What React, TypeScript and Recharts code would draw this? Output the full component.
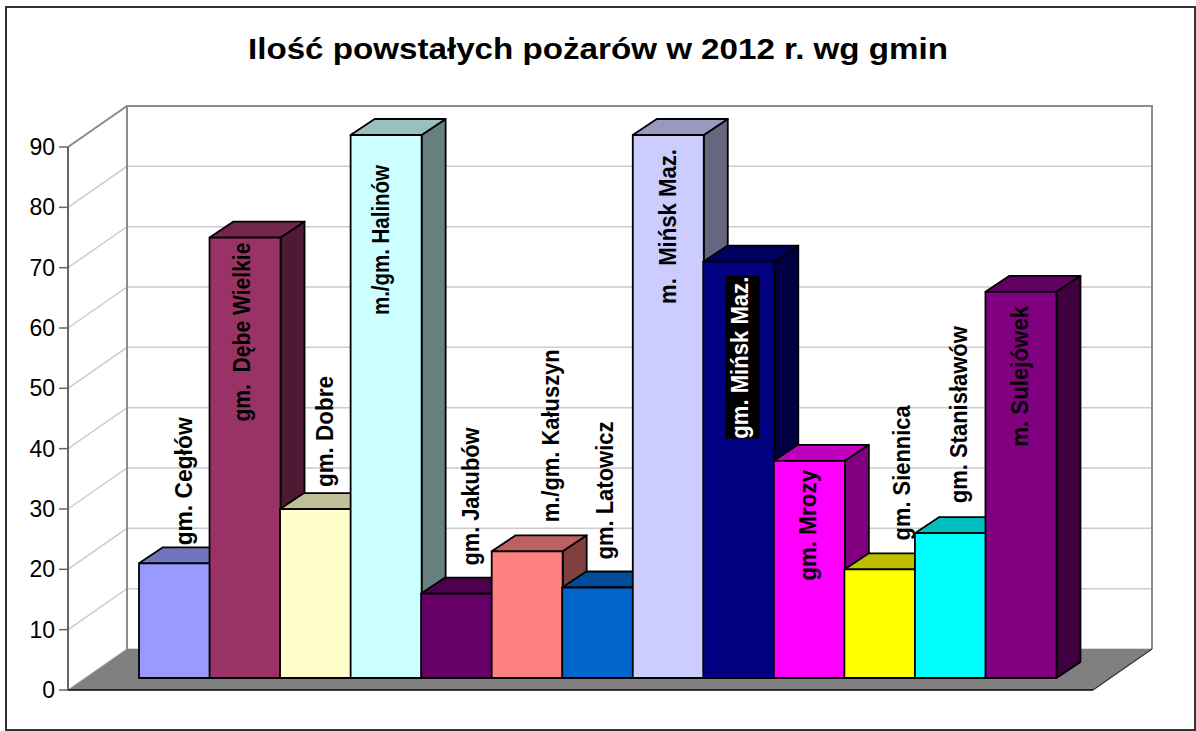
import { BarChart, Bar, XAxis, YAxis, CartesianGrid, LabelList, ReferenceArea } from "recharts"

const gminy = [
  "gm. Cegłów", "gm.  Dębe Wielkie", "gm. Dobre", "m./gm. Halinów", "gm. Jakubów", "m./gm. Kałuszyn", "gm. Latowicz",
  "m.  Mińsk Maz.", "gm. Mińsk Maz.", "gm. Mrozy", "gm. Siennica", "gm. Stanisławów", "m. Sulejówek",
]
const pozary = [19, 73, 28, 90, 14, 21, 15, 90, 69, 36, 18, 24, 64]
const yTicks = [0, 10, 20, 30, 40, 50, 60, 70, 80, 90]
const colors = [
  "#9999FF", "#993366", "#FFFFCC", "#CCFFFF", "#660066", "#FF8080", "#0066CC",
  "#CCCCFF", "#000080", "#FF00FF", "#FFFF00", "#00FFFF", "#800080",
]

const data = gminy.map((name, i) => ({ name, value: pozary[i] }))

// hand placed labels: sideways nudge from bar centre, gap between bar top and text start, drawn length
const labelNudge = [10, -2, 10, -4, 15, 25, 8, 1, 2, 0, 23, 10, 0]
const labelGap = [18, -184, 22, -180, 28, 29, 28, -169, -177, -120, 29, 30, -155]
const labelLength = [128, 179, 111, 150, 138, 173, 138, 155, 162, 111, 135, 177, 141]

const AXIS_PADDING = 54
const WALL_DX = 59
const WALL_DY = 41
const BAR_DX = 17
const BAR_DY = 12
const DEPTH_X = 24
const DEPTH_Y = 16

const shade = (hex: string, k: number) => {
  const n = parseInt(hex.slice(1), 16)
  const c = [n >> 16, (n >> 8) & 255, n & 255].map((v) => Math.round(v * k))
  return `rgb(${c[0]},${c[1]},${c[2]})`
}

const Bar3D = (props: any) => {
  const { x, y, width, height, index } = props
  const left = x + BAR_DX
  const right = left + width
  const top = y - BAR_DY
  const bottom = top + height
  const fill = colors[index]
  const line = { stroke: "#000", strokeWidth: 1.8, strokeLinejoin: "round" as const }
  return (
    <g>
      <polygon
        points={`${right},${top} ${right + DEPTH_X},${top - DEPTH_Y} ${right + DEPTH_X},${bottom - DEPTH_Y} ${right},${bottom}`}
        fill={shade(fill, 0.5)}
        {...line}
      />
      <polygon
        points={`${left},${top} ${left + DEPTH_X},${top - DEPTH_Y} ${right + DEPTH_X},${top - DEPTH_Y} ${right},${top}`}
        fill={shade(fill, 0.75)}
        {...line}
      />
      <rect x={left} y={top} width={width} height={height} fill={fill} {...line} />
    </g>
  )
}

const BarLabel = (props: any) => {
  const { x, y, width, value, index } = props
  const cx = x + BAR_DX + width / 2 + labelNudge[index]
  const start = y - BAR_DY - labelGap[index]
  const inverted = index === 8
  return (
    <g>
      {inverted && <rect x={cx - 15} y={start - 163} width={34} height={163} fill="#000" />}
      <text
        transform={`translate(${cx + 7},${start}) rotate(-90)`}
        fontFamily="Liberation Sans"
        fontWeight="bold"
        fontSize={23}
        textLength={labelLength[index]}
        lengthAdjust="spacingAndGlyphs"
        fill={inverted ? "#fff" : "#000"}
        style={{ whiteSpace: "pre" }}
      >
        {value}
      </text>
    </g>
  )
}

// ReferenceArea only spans the padded band range, so widen it back to the whole floor
const Walls = (props: any) => {
  const { y, height } = props
  const x = props.x - AXIS_PADDING
  const width = props.width + AXIS_PADDING * 2
  const bottom = y + height
  const right = x + width
  return (
    <g>
      <polygon
        points={`${x},${bottom} ${x + WALL_DX},${bottom - WALL_DY} ${right + WALL_DX},${bottom - WALL_DY} ${right},${bottom}`}
        fill="#808080"
      />
      <path
        d={`M${x},${y} L${x + WALL_DX},${y - WALL_DY} L${right + WALL_DX},${y - WALL_DY} L${right + WALL_DX},${bottom - WALL_DY} M${x + WALL_DX},${y - WALL_DY} L${x + WALL_DX},${bottom - WALL_DY}`}
        fill="none"
        stroke="#8c8c8c"
        strokeWidth={2}
      />
      <line x1={x} y1={bottom} x2={right} y2={bottom} stroke="#000" strokeWidth={1.5} />
      <line x1={right} y1={bottom} x2={right + WALL_DX} y2={bottom - WALL_DY} stroke="#333" strokeWidth={1.2} />
    </g>
  )
}

const GridLine = (props: any) => {
  const { x1, x2, y1 } = props
  return (
    <path
      key={props.key ?? y1}
      d={`M${x1},${y1} L${x1 + WALL_DX},${y1 - WALL_DY} L${x2 + WALL_DX},${y1 - WALL_DY}`}
      fill="none"
      stroke="#cccccc"
      strokeWidth={1.5}
    />
  )
}

export default function App() {
  return (
    <div
      style={{
        position: "absolute",
        left: 0,
        top: 0,
        width: 1196,
        height: 731,
        background: "#fff",
      }}
    >
      <BarChart
        width={1196}
        height={731}
        data={data}
        barCategoryGap={0}
        margin={{ top: 147, right: 103, bottom: 41, left: 0 }}
      >
        <rect x={6} y={7} width={1189} height={723} fill="none" stroke="#333" strokeWidth={2} />
        <text
          x={598}
          y={59}
          textAnchor="middle"
          fontFamily="Liberation Sans"
          fontWeight="bold"
          fontSize={30}
          textLength={700}
          lengthAdjust="spacingAndGlyphs"
          fill="#000"
        >
          Ilość powstałych pożarów w 2012 r. wg gmin
        </text>
        <CartesianGrid vertical={false} horizontal={GridLine} />
        <ReferenceArea y1={0} y2={90} shape={Walls} />
        <XAxis dataKey="name" hide padding={{ left: AXIS_PADDING, right: AXIS_PADDING }} />
        <YAxis
          width={68}
          domain={[0, 90]}
          ticks={yTicks}
          interval={0}
          tickSize={9}
          tickMargin={4}
          axisLine={{ stroke: "#333", strokeWidth: 1.5 }}
          tickLine={{ stroke: "#666", strokeWidth: 1.5 }}
          tick={{ fill: "#000", fontSize: 23, fontFamily: "Liberation Sans" }}
        />
        <Bar dataKey="value" shape={Bar3D} isAnimationActive={false}>
          <LabelList dataKey="name" content={BarLabel} />
        </Bar>
      </BarChart>
    </div>
  )
}
